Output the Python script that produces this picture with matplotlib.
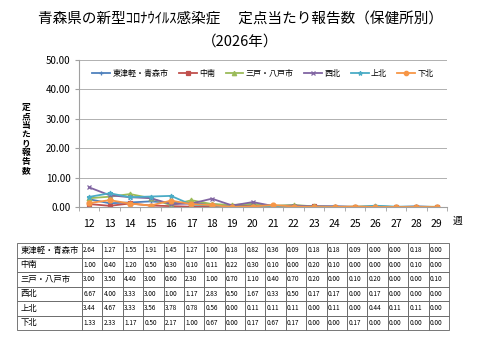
import numpy as np
import matplotlib
matplotlib.use("Agg")
import matplotlib.pyplot as plt
from matplotlib.ticker import FixedLocator

plt.rcParams['font.family'] = ['Noto Sans CJK JP', 'DejaVu Sans']

weeks = [str(w) for w in range(12, 30)]
areas = ["東津軽・青森市", "中南", "三戸・八戸市", "西北", "上北", "下北"]

aomori = [2.64, 1.27, 1.55, 1.91, 1.45, 1.27, 1.00, 0.18, 0.82, 0.36, 0.09, 0.18, 0.18, 0.09, 0.00, 0.00, 0.18, 0.00]
chunan = [1.00, 0.40, 1.20, 0.50, 0.30, 0.10, 0.11, 0.22, 0.30, 0.10, 0.00, 0.20, 0.10, 0.00, 0.00, 0.00, 0.10, 0.00]
hachinohe = [3.00, 3.50, 4.40, 3.00, 0.60, 2.30, 1.00, 0.70, 1.10, 0.40, 0.70, 0.20, 0.00, 0.10, 0.20, 0.00, 0.00, 0.10]
seihoku = [6.67, 4.00, 3.33, 3.00, 1.00, 1.17, 2.83, 0.50, 1.67, 0.33, 0.50, 0.17, 0.17, 0.00, 0.17, 0.00, 0.00, 0.00]
kamikita = [3.44, 4.67, 3.33, 3.56, 3.78, 0.78, 0.56, 0.00, 0.11, 0.11, 0.11, 0.00, 0.11, 0.00, 0.44, 0.11, 0.11, 0.00]
shimokita = [1.33, 2.33, 1.17, 0.50, 2.17, 1.00, 0.67, 0.00, 0.17, 0.67, 0.17, 0.00, 0.00, 0.17, 0.00, 0.00, 0.00, 0.00]

series = [aomori, chunan, hachinohe, seihoku, kamikita, shimokita]
colors = ['#4F81BD', '#C0504D', '#9BBB59', '#8064A2', '#4BACC6', '#F79646']
markers = ['+', 's', '^', 'x', '*', 'o']

W, H = 480, 360
fig = plt.figure(figsize=(4.8, 3.6), dpi=100)

fig.text(0.5, 1 - 20 / H, "青森県の新型ｺﾛﾅｳｲﾙｽ感染症　 定点当たり報告数（保健所別）",
         ha='center', va='center', fontsize=10.5)
fig.text(0.5, 1 - 42 / H, "（2026年）", ha='center', va='center', fontsize=10.5)

ax = fig.add_axes([79 / W, 1 - 207 / H, (447 - 79) / W, (207 - 60) / H])
x = np.arange(len(weeks))
for name, vals, c, m in zip(areas, series, colors, markers):
    ax.plot(x, vals, color=c, marker=m, markersize=3.5, linewidth=1.3, label=name,
            markeredgewidth=0.9)

ax.set_xlim(-0.5, len(weeks) - 0.5)
ax.set_ylim(0, 50)
ax.set_yticks(np.arange(0, 51, 10))
ax.set_yticklabels([f"{v:.2f}" for v in np.arange(0, 51, 10)], fontsize=7)
ax.set_xticks(x)
ax.set_xticklabels(weeks, fontsize=7.5)
ax.xaxis.set_minor_locator(FixedLocator(np.arange(-0.5, len(weeks), 1)))
ax.tick_params(axis='x', which='major', length=0, pad=9)
ax.tick_params(axis='x', which='minor', length=3, color='#A0A0A0', direction='out')
ax.tick_params(axis='y', length=3, color='#A0A0A0', pad=3)
ax.grid(axis='y', color='#B0B0B0', linewidth=0.7)
ax.set_axisbelow(True)
for s in ['top', 'right']:
    ax.spines[s].set_visible(False)
ax.spines['left'].set_color('#A0A0A0')
ax.spines['bottom'].set_color('#A0A0A0')

ax.legend(loc='upper center', bbox_to_anchor=(0.5, 0.99), ncol=6, frameon=False,
          fontsize=5.8, handlelength=2.2, columnspacing=1.3, handletextpad=0.3,
          markerscale=0.9)

fig.text(458 / W, 1 - 221 / H, "週", ha='center', va='center', fontsize=7)
fig.text(26 / W, 1 - 139 / H, "\n".join("定点当たり報告数"), ha='center', va='center',
         fontsize=6.3, fontweight='bold', linespacing=1.0)

# table
tax = fig.add_axes([17 / W, 1 - 330 / H, (449 - 17) / W, (330 - 243) / H])
tax.axis('off')
cell_text = [[f"{v:.2f}" for v in vals] for vals in series]
rows = [[name] + row for name, row in zip(areas, cell_text)]
col_w = [65] + [20.4] * len(weeks)
tbl = tax.table(cellText=rows, colWidths=col_w, bbox=[0, 0, 1, 1], cellLoc='left')
tbl.auto_set_font_size(False)
for (r, c), cell in tbl.get_celld().items():
    cell.set_edgecolor('#606060')
    cell.set_linewidth(0.6)
    cell.get_text().set_fontsize(6 if c == 0 else 4.6)
    cell.PAD = 0.05 if c == 0 else 0.06

fig.savefig("out.png", dpi=100)
